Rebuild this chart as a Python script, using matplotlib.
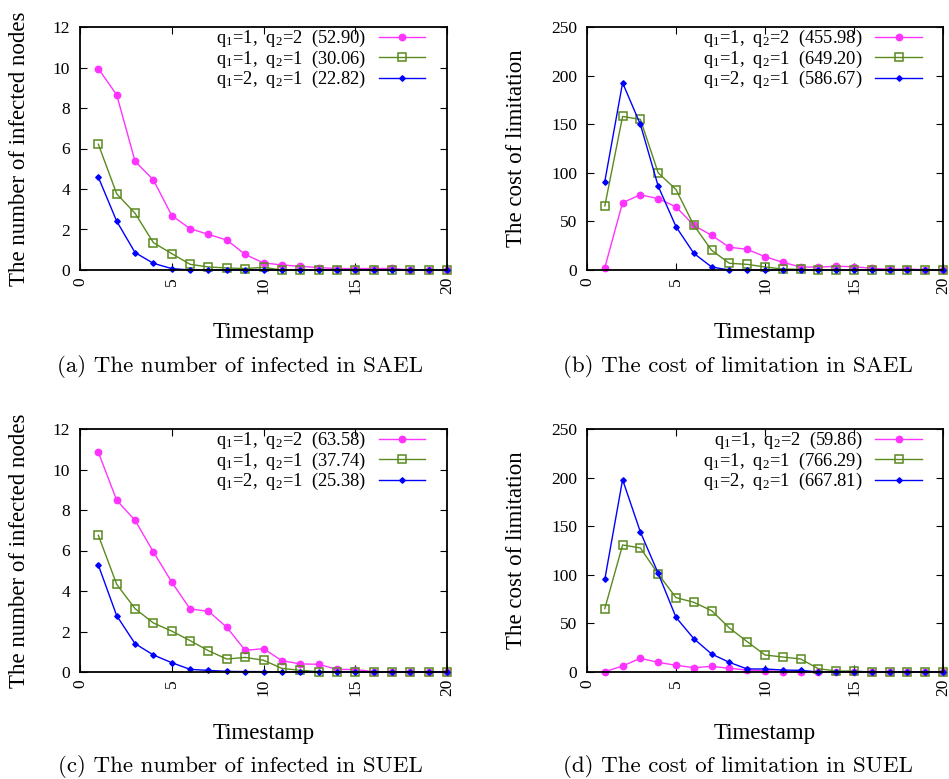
import matplotlib
matplotlib.use("Agg")
import matplotlib.pyplot as plt
import numpy as np

plt.rcParams['font.family'] = ['Liberation Serif', 'DejaVu Serif']
plt.rcParams['mathtext.fontset'] = 'custom'
plt.rcParams['mathtext.rm'] = 'Liberation Serif'
plt.rcParams['mathtext.it'] = 'Liberation Serif:italic'
plt.rcParams['mathtext.bf'] = 'Liberation Serif:bold'

timestamps = list(range(1, 21))

# (a) number of infected, SAEL
a_q12 = [9.94, 8.65, 5.37, 4.45, 2.69, 2.04, 1.76, 1.48, 0.77, 0.35, 0.25, 0.18, 0.12, 0.07, 0.07, 0.07, 0.08, 0, 0, 0]
a_q11 = [6.21, 3.76, 2.80, 1.35, 0.81, 0.28, 0.15, 0.10, 0.07, 0.13, 0, 0, 0, 0, 0, 0, 0, 0, 0, 0]
a_q21 = [4.58, 2.41, 0.86, 0.33, 0.07, 0, 0, 0, 0, 0, 0, 0, 0, 0, 0, 0, 0, 0, 0, 0]
a_totals = ["52.90", "30.06", "22.82"]

# (b) cost of limitation, SAEL
b_q12 = [2.4, 69.4, 77.3, 73.5, 64.9, 46.0, 35.7, 23.4, 21.3, 13.7, 7.9, 3.1, 3.0, 3.8, 3.4, 1.7, 0.7, 1.0, 0.3, 0]
b_q11 = [65.9, 158.0, 154.9, 99.9, 82.8, 46.0, 20.3, 6.9, 5.8, 3.1, 1.0, 0.7, 0, 0, 0, 0, 0, 0, 0, 0]
b_q21 = [91.0, 192.6, 149.7, 86.2, 44.6, 17.2, 3.1, 0, 0, 0, 0, 0, 0, 0, 0, 0, 0, 0, 0, 0]
b_totals = ["455.98", "649.20", "586.67"]

# (c) number of infected, SUEL
c_q12 = [10.85, 8.48, 7.49, 5.93, 4.44, 3.11, 3.00, 2.21, 1.07, 1.15, 0.56, 0.40, 0.38, 0.13, 0.12, 0.02, 0, 0, 0, 0]
c_q11 = [6.75, 4.33, 3.13, 2.42, 2.02, 1.55, 1.05, 0.64, 0.72, 0.58, 0.18, 0.08, 0.02, 0, 0, 0, 0, 0, 0, 0]
c_q21 = [5.28, 2.78, 1.40, 0.84, 0.46, 0.13, 0.08, 0.03, 0.02, 0.02, 0, 0, 0, 0, 0, 0, 0, 0, 0, 0]
c_totals = ["63.58", "37.74", "25.38"]

# (d) cost of limitation, SUEL
d_q12 = [0.3, 6.2, 14.1, 9.9, 6.9, 4.5, 5.8, 3.8, 2.0, 1.4, 0.3, 0.3, 0, 0, 0, 0, 0, 0, 0, 0]
d_q11 = [65.2, 130.7, 127.6, 100.8, 76.5, 71.7, 63.1, 45.3, 31.2, 17.5, 15.4, 13.4, 3.4, 1.0, 1.0, 0, 0, 0, 0, 0]
d_q21 = [95.3, 197.9, 144.0, 101.5, 56.2, 34.3, 18.5, 9.9, 3.1, 3.1, 2.0, 1.7, 0, 0, 0, 0, 0, 0, 0, 0]
d_totals = ["59.86", "766.29", "667.81"]

xticks = [0, 5, 10, 15, 20]
yticks_nodes = [0, 2, 4, 6, 8, 10, 12]
yticks_cost = [0, 50, 100, 150, 200, 250]

captions = ["(a) The number of infected in SAEL", "(b) The cost of limitation in SAEL",
            "(c) The number of infected in SUEL", "(d) The cost of limitation in SUEL"]
ylabels = ["The number of infected nodes", "The cost of limitation",
           "The number of infected nodes", "The cost of limitation"]

W, H = 949, 779
fig = plt.figure(figsize=(W / 100, H / 100), dpi=100)

def px_axes(l, t, r, b):
    return fig.add_axes([l / W, 1 - b / H, (r - l) / W, (b - t) / H])

panels = [
    dict(box=(80, 27, 447, 270), data=(a_q12, a_q11, a_q21), tot=a_totals, yt=yticks_nodes, ylim=12,
         ylab_x=20, tsy=332, capx=240, capy=366),
    dict(box=(587, 27, 943, 270), data=(b_q12, b_q11, b_q21), tot=b_totals, yt=yticks_cost, ylim=250,
         ylab_x=517, tsy=332, capx=738, capy=366),
    dict(box=(80, 429, 447, 672), data=(c_q12, c_q11, c_q21), tot=c_totals, yt=yticks_nodes, ylim=12,
         ylab_x=20, tsy=733, capx=240, capy=767),
    dict(box=(587, 429, 943, 672), data=(d_q12, d_q11, d_q21), tot=d_totals, yt=yticks_cost, ylim=250,
         ylab_x=517, tsy=733, capx=738, capy=767),
]

series_names = [r"q$_\mathregular{1}$=1,  q$_\mathregular{2}$=2",
                r"q$_\mathregular{1}$=1,  q$_\mathregular{2}$=1",
                r"q$_\mathregular{1}$=2,  q$_\mathregular{2}$=1"]
styles = [dict(color='#ff33ff', marker='o', ms=4.6, mfc='#ff33ff', mec='#ff33ff'),
          dict(color='#5a8a1e', marker='s', ms=5.5, mfc='none', mec='#5a8a1e', mew=1.1),
          dict(color='#0000ff', marker='D', ms=2.8, mfc='#0000ff', mec='#0000ff')]

for i, p in enumerate(panels):
    l, t, r, b = p['box']
    ax = px_axes(l, t, r, b)
    for ys, nm, tot, st in zip(p['data'], series_names, p['tot'], styles):
        ax.plot(timestamps, ys, lw=1.0, label=f"{nm}  ({tot})", clip_on=False, **st)
    ax.set_xlim(0, 20)
    ax.set_ylim(0, p['ylim'])
    ax.set_xticks(xticks)
    ax.set_yticks(p['yt'])
    ax.tick_params(direction='in', top=True, right=True, length=5, width=0.8,
                   labelsize=12.5, color='black')
    ax.tick_params(axis='y', pad=7)
    ax.tick_params(axis='x', pad=5, labelrotation=90)
    for lab in ax.get_xticklabels():
        lab.set_va('top')
    for sp in ax.spines.values():
        sp.set_linewidth(1.3)
    leg = ax.legend(loc='upper right', bbox_to_anchor=(0.94, 0.995), frameon=False,
                    markerfirst=False, fontsize=13.3, handlelength=2.5, handletextpad=0.7,
                    labelspacing=-0.03, borderpad=0, borderaxespad=0)
    for txt in leg.get_texts():
        txt.set_ha('right')
    fig.text(p['ylab_x'] / W, 1 - ((t + b) / 2) / H, ylabels[i], rotation=90,
             ha='center', va='center', fontsize=16.5)
    fig.text(((l + r) / 2) / W, 1 - p['tsy'] / H, "Timestamp", ha='center', va='center', fontsize=16.5)
    fig.text(p['capx'] / W, 1 - p['capy'] / H, captions[i], ha='center', va='center',
             fontsize=16.5, family=['cmr10', 'DejaVu Serif'])

fig.savefig("out.png", dpi=100)
